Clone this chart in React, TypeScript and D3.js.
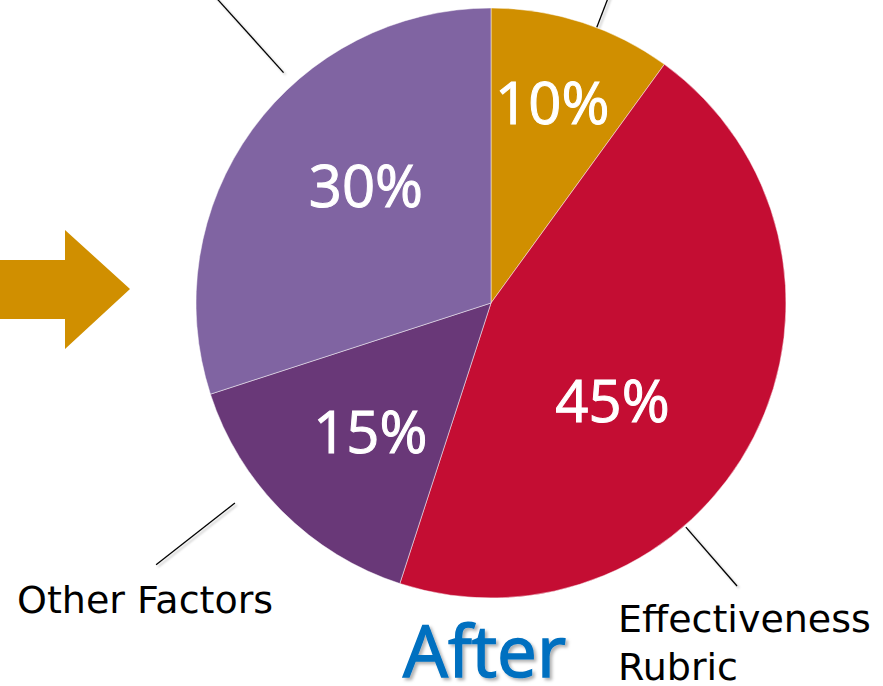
import React from "react";
import * as d3 from "d3";

// ---- data ----
const sliceNames = ["Slice A", "Effectiveness Rubric", "Other Factors", "Slice D"];
const sliceValues = [10, 45, 15, 30];
const sliceLabels = ["10%", "45%", "15%", "30%"];
const sliceColors = ["#D08F00", "#C40D33", "#693878", "#8064A2"];
const titleText = "After";

// ---- layout/style constants ----
const W = 883;
const H = 686;
const CX = 491;
const CY = 303;
const R = 295;
const labelRadiusFrac = [0.71, 0.53, 0.6, 0.58];
const labelAngleShiftDeg = [-1, 12, -2, 7];
const leaderAngleShiftDeg = [3, 22, 7, 12];
const leaderInner = [0, 2, 30, 15];
const leaderOuter = [40, 80, 130, 120];

export default function App() {
  const pie = d3
    .pie<number>()
    .sort(null)
    .value((d) => d)
    .startAngle(0)
    .endAngle(2 * Math.PI);
  const arcs = pie(sliceValues);
  const arc = d3.arc<d3.PieArcDatum<number>>().innerRadius(0).outerRadius(R);

  const polar = (ang: number, rad: number) => [
    CX + rad * Math.sin(ang),
    CY - rad * Math.cos(ang),
  ];
  const deg = Math.PI / 180;

  // arrow geometry (decoration)
  const arrowPath = d3.path();
  arrowPath.moveTo(0, 260);
  arrowPath.lineTo(65, 260);
  arrowPath.lineTo(65, 230);
  arrowPath.lineTo(130, 289);
  arrowPath.lineTo(65, 349);
  arrowPath.lineTo(65, 319);
  arrowPath.lineTo(0, 319);
  arrowPath.closePath();

  return (
    <div style={{ position: "absolute", left: 0, top: 0 }}>
      <svg width={W} height={H} style={{ display: "block", background: "#fff" }}>
        <defs>
          <filter id="lineShadow" x="-20%" y="-20%" width="140%" height="140%">
            <feDropShadow dx="2" dy="2" stdDeviation="1.2" floodColor="#000" floodOpacity="0.25" />
          </filter>
          <filter id="textShadow" x="-10%" y="-10%" width="130%" height="130%">
            <feDropShadow dx="2.5" dy="2.5" stdDeviation="1.5" floodColor="#000" floodOpacity="0.3" />
          </filter>
        </defs>

        <path d={arrowPath.toString()} fill="#D08F00" />

        {/* leader lines */}
        {arcs.map((a, i) => {
          const mid = (a.startAngle + a.endAngle) / 2;
          const angle = mid + leaderAngleShiftDeg[i] * deg;
          const [x1, y1] = polar(angle, R + leaderInner[i]);
          const [x2, y2] = polar(angle, R + leaderOuter[i]);
          return (
            <line
              key={"l" + i}
              x1={x1}
              y1={y1}
              x2={x2}
              y2={y2}
              stroke="#000"
              strokeWidth={1.3}
              filter="url(#lineShadow)"
            />
          );
        })}

        {/* slices */}
        {arcs.map((a, i) => (
          <path
            key={"s" + i}
            d={arc(a) || ""}
            transform={`translate(${CX},${CY})`}
            fill={sliceColors[i]}
            stroke="#ffffff"
            strokeOpacity={0.6}
            strokeWidth={0.8}
          >
            <title>{sliceNames[i]}</title>
          </path>
        ))}

        {/* percent labels */}
        {arcs.map((a, i) => {
          const mid = (a.startAngle + a.endAngle) / 2 + labelAngleShiftDeg[i] * deg;
          const [x, y] = polar(mid, R * labelRadiusFrac[i]);
          return (
            <text
              key={"t" + i}
              x={x}
              y={y + 21}
              textAnchor="middle"
              fill="#fff"
              stroke="#fff"
              strokeWidth={1}
              fontFamily="'Open Sans', sans-serif"
              fontSize={58}
            >
              {sliceLabels[i]}
            </text>
          );
        })}

        {/* category labels */}
        <text x={17} y={613} fontFamily="'DejaVu Sans', sans-serif" fontSize={38} fill="#000">
          {sliceNames[2]}
        </text>
        <text x={618} y={632} fontFamily="'DejaVu Sans', sans-serif" fontSize={38} fill="#000">
          {sliceNames[1].split(" ")[0]}
        </text>
        <text x={618} y={680} fontFamily="'DejaVu Sans', sans-serif" fontSize={38} fill="#000">
          {sliceNames[1].split(" ")[1]}
        </text>

        <text
          x={403}
          y={677}
          fontFamily="'Open Sans', sans-serif"
          fontSize={71}
          fill="#0070C0"
          stroke="#0070C0"
          strokeWidth={1.5}
          filter="url(#textShadow)"
        >
          {titleText}
        </text>
      </svg>
    </div>
  );
}
